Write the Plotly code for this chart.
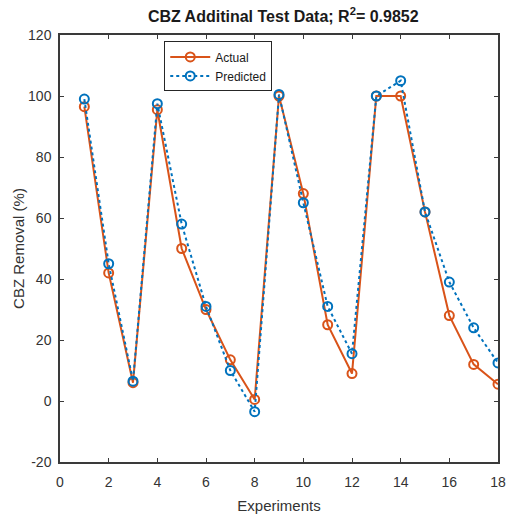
import plotly.graph_objects as go

experiments = list(range(1, 19))
actual = [96.5, 42, 6, 95.5, 50, 30, 13.5, 0.5, 100, 68, 25, 9, 100, 100, 62, 28, 12, 5.5]
predicted = [99, 45, 6.5, 97.5, 58, 31, 10, -3.5, 100.5, 65, 31, 15.5, 100, 105, 62, 39, 24, 12.5]

x_ticks = list(range(0, 19, 2))
y_ticks = list(range(-20, 121, 20))
y_tick_labels = [str(v) for v in y_ticks]  # plain hyphen for negatives

red = "#D95319"
blue = "#0072BD"
font_family = "Liberation Sans, Arial"

fig = go.Figure()
fig.add_trace(go.Scatter(
    x=experiments, y=actual, name="Actual", mode="lines+markers",
    line=dict(color=red, width=2),
    marker=dict(symbol="circle-open", size=9, color=red, line=dict(width=2)),
))
fig.add_trace(go.Scatter(
    x=experiments, y=predicted, name="Predicted", mode="lines+markers",
    line=dict(color=blue, width=2, dash="dot"),
    marker=dict(symbol="circle-open", size=9, color=blue, line=dict(width=2)),
))

axis_common = dict(
    showline=True, linecolor="#3a3a3a", linewidth=1.5, mirror="ticks",
    ticks="inside", ticklen=4, tickcolor="#3a3a3a", showgrid=False, zeroline=False,
    tickfont=dict(family=font_family, size=14, color="#333333"),
)

fig.update_layout(
    width=515, height=521,
    margin=dict(l=60, r=9, t=35, b=59),
    paper_bgcolor="white", plot_bgcolor="white",
    title=dict(
        text="<b>CBZ Additinal Test Data; R<sup>2</sup>= 0.9852</b>",
        x=0.55, xanchor="center", y=0.98, yanchor="top",
        font=dict(family=font_family, size=16, color="#1a1a1a"),
    ),
    xaxis=dict(range=[0, 18], tickvals=x_ticks, ticklabelstandoff=6,
               title=dict(text="Experiments", standoff=12,
                          font=dict(family=font_family, size=15, color="#333333")),
               **axis_common),
    yaxis=dict(range=[-20, 120], tickvals=y_ticks, ticktext=y_tick_labels,
               ticklabelstandoff=4,
               title=dict(text="CBZ Removal (%)", standoff=0,
                          font=dict(family=font_family, size=15, color="#333333")),
               **axis_common),
    legend=dict(
        x=0.238, y=0.985, xanchor="left", yanchor="top",
        bgcolor="white", bordercolor="#262626", borderwidth=1,
        font=dict(family=font_family, size=12, color="#1a1a1a"),
        tracegroupgap=0, itemwidth=40,
    ),
    showlegend=True,
)

fig.write_html("out.html")
